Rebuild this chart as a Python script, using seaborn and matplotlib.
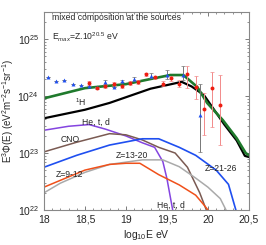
import numpy as np
import pandas as pd
import seaborn as sns
from matplotlib import pyplot as plt
from matplotlib import ticker

# model curves, log10(E) vs log10(E^3 Phi)
total_x = [18.0, 18.5, 19.0, 19.3, 19.54, 19.7, 19.87, 19.99, 20.18, 20.35, 20.46, 20.5]
total_y = [23.96, 24.14, 24.21, 24.30, 24.37, 24.37, 24.16, 23.88, 23.58, 23.26, 23.0, 22.96]

h_x = [18.0, 18.5, 18.8, 19.0, 19.3, 19.68, 19.8, 19.95, 20.2, 20.35, 20.45, 20.5]
h_y = [23.61, 23.76, 23.88, 23.98, 24.13, 24.25, 24.17, 24.02, 23.5, 23.22, 22.95, 22.93]

he_x = [18.0, 18.3, 18.55, 18.75, 19.0, 19.2, 19.35, 19.45, 19.5, 19.57]
he_y = [23.40, 23.47, 23.50, 23.42, 23.30, 23.18, 23.10, 22.85, 22.55, 22.0]

cno_x = [18.0, 18.4, 18.8, 19.0, 19.2, 19.4, 19.6, 19.75, 19.9, 19.98]
cno_y = [23.02, 23.19, 23.34, 23.32, 23.23, 23.10, 23.0, 22.75, 22.3, 22.0]

z2126_x = [18.0, 18.4, 18.8, 19.2, 19.4, 19.65, 19.85, 20.1, 20.25, 20.34]
z2126_y = [22.75, 22.96, 23.14, 23.25, 23.25, 23.10, 22.96, 22.70, 22.45, 22.0]

z1320_x = [18.0, 18.2, 18.5, 18.8, 19.2, 19.45, 19.65, 19.85, 20.0, 20.15, 20.22]
z1320_y = [22.30, 22.47, 22.66, 22.80, 22.88, 22.88, 22.76, 22.56, 22.40, 22.20, 22.0]

z912_x = [18.0, 18.25, 18.5, 18.8, 19.0, 19.17, 19.4, 19.65, 19.85, 19.95, 20.0]
z912_y = [22.40, 22.55, 22.70, 22.80, 22.82, 22.82, 22.62, 22.44, 22.26, 22.09, 22.0]

# measured points
blue_x = [18.05, 18.15, 18.25, 18.35, 18.45, 18.55, 18.65, 18.75, 18.85, 18.95, 19.1, 19.3, 19.5, 19.7, 19.9]
blue_y = [24.33, 24.27, 24.28, 24.22, 24.19, 24.17, 24.16, 24.25, 24.16, 24.27, 24.30, 24.36, 24.37, 24.37, 23.67]
blue_lo = [24.33, 24.27, 24.28, 24.22, 24.19, 24.17, 24.16, 24.21, 24.16, 24.25, 24.27, 24.32, 24.30, 24.28, 23.02]
blue_hi = [24.33, 24.27, 24.28, 24.22, 24.19, 24.17, 24.16, 24.29, 24.16, 24.29, 24.33, 24.41, 24.45, 24.53, 24.21]

red_x = [18.55, 18.65, 18.75, 18.85, 18.95, 19.05, 19.15, 19.25, 19.35, 19.45, 19.55, 19.65, 19.75, 19.85, 19.95, 20.05, 20.15]
red_y = [24.23, 24.14, 24.17, 24.22, 24.17, 24.23, 24.25, 24.38, 24.33, 24.22, 24.31, 24.22, 24.39, 24.16, 23.77, 24.14, 23.84]
red_lo = [24.20, 24.12, 24.14, 24.19, 24.14, 24.20, 24.22, 24.35, 24.30, 24.17, 24.27, 24.16, 24.14, 23.95, 23.32, 23.45, 23.14]
red_hi = [24.26, 24.16, 24.20, 24.25, 24.20, 24.26, 24.28, 24.41, 24.36, 24.27, 24.35, 24.28, 24.52, 24.35, 24.06, 24.43, 24.37]

x_ticks = [18, 18.5, 19, 19.5, 20, 20.5]
x_tick_labels = ["18", "18,5", "19", "19,5", "20", "20,5"]

sns.set_style("ticks")
plt.rcParams["font.family"] = ["Liberation Sans", "DejaVu Sans"]
plt.rcParams["mathtext.fontset"] = "custom"
plt.rcParams["mathtext.rm"] = "Liberation Sans"
plt.rcParams["mathtext.it"] = "Liberation Sans:italic"

fig, ax = plt.subplots(figsize=(2.66, 2.45), dpi=100)
fig.subplots_adjust(left=0.165, right=0.936, bottom=0.143, top=0.951)

curves = [
    (h_x, h_y, "black", 1.6),
    (he_x, he_y, "#8444e0", 1.1),
    (cno_x, cno_y, "#7a5a52", 1.1),
    (z2126_x, z2126_y, "#1f4ff0", 1.2),
    (z1320_x, z1320_y, "#aaaaaa", 1.1),
    (z912_x, z912_y, "#f0501a", 1.1),
    (total_x, total_y, "#1f7a2c", 1.9),
]
for cx, cy, col, lw in curves:
    df = pd.DataFrame({"x": cx, "y": 10 ** np.array(cy)})
    sns.lineplot(data=df, x="x", y="y", color=col, lw=lw, ax=ax, sort=False)

bx, by = np.array(blue_x), np.array(blue_y)
ax.errorbar(bx, 10 ** by, yerr=[10 ** by - 10 ** np.array(blue_lo), 10 ** np.array(blue_hi) - 10 ** by],
            fmt="none", ecolor="#777777", elinewidth=0.7, capsize=1.3, capthick=0.5, zorder=3)
rx, ry = np.array(red_x), np.array(red_y)
ax.errorbar(rx, 10 ** ry, yerr=[10 ** ry - 10 ** np.array(red_lo), 10 ** np.array(red_hi) - 10 ** ry],
            fmt="none", ecolor="#f28a8a", elinewidth=0.7, capsize=1.3, capthick=0.5, zorder=3)
sns.scatterplot(x=blue_x, y=10 ** by, marker="^", color="#1f4ff0", s=8, linewidth=0, ax=ax, zorder=4)
sns.scatterplot(x=red_x, y=10 ** ry, marker="o", color="#ee1c10", s=8, linewidth=0, ax=ax, zorder=4)

ax.set_yscale("log")
ax.set_xlim(18, 20.5)
ax.set_ylim(1e22, 3e25)
ax.set_xticks(x_ticks)
ax.set_xticklabels(x_tick_labels)
ax.xaxis.set_minor_locator(ticker.MultipleLocator(0.1))
ax.tick_params(which="both", direction="in", top=True, right=True, labelsize=7.5, color="#666666")
ax.tick_params(which="major", length=3, width=0.6)
ax.tick_params(which="minor", length=1.5, width=0.5)
for s in ax.spines.values():
    s.set_color("#888888")
    s.set_linewidth(0.8)

ax.set_xlabel("log$_{10}$E eV", fontsize=7.5, labelpad=2)
ax.set_ylabel("E$^3$Φ(E) (eV$^2$m$^{-2}$s$^{-1}$sr$^{-1}$)", fontsize=7, labelpad=1)

fs = 6.2
ax.text(18.1, 10 ** 25.33, "mixed composition at the sources", fontsize=fs)
ax.text(18.1, 10 ** 24.97, "E$_{max}$=Z.10$^{20.5}$ eV", fontsize=fs)
ax.text(18.38, 10 ** 23.82, "$^1$H", fontsize=fs)
ax.text(18.46, 10 ** 23.5, "He, t, d", fontsize=fs)
ax.text(18.2, 10 ** 23.2, "CNO", fontsize=fs)
ax.text(18.14, 10 ** 22.58, "Z=9-12", fontsize=fs)
ax.text(18.88, 10 ** 22.92, "Z=13-20", fontsize=fs)
ax.text(19.96, 10 ** 22.68, "Z=21-26", fontsize=fs)
ax.text(19.38, 10 ** 22.04, "He, t, d", fontsize=fs)

plt.savefig("out.png", dpi=100)
